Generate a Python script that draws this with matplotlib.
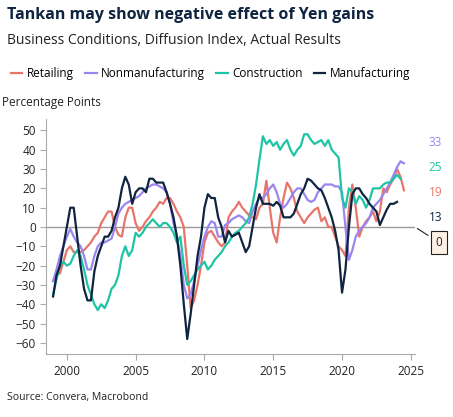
import matplotlib
matplotlib.use("Agg")
import matplotlib.pyplot as plt
import numpy as np

plt.rcParams['font.family'] = ['Open Sans', 'DejaVu Sans']

start_year = 1999.0
manufacturing = [-36,-25,-20,-10, 0,10,10,-5, -20,-32,-38,-38, -23,-15,-10,-5, -5,-2,5,10,
 20,26,22,12, 18,20,20,18, 25,25,23,23, 23,18,12,5, -5,-20,-40,-58, -45,-30,-15,-5,
 10,17,15,15, 5,0,-8,-2, -5,-4,-3,-8, -13,-10,0,10, 17,12,12,12, 11,13,11,5,
 5,5,7,12, 17,20,25,24, 22,20,19,15, 10,5,-2,-12, -34,-22,0,17, 20,20,17,15,
 12,10,8,1, 5,9,12,12, 13]
nonmanufacturing = [-28,-22,-15,-10, -5,-1,-5,-8, -10,-15,-22,-22, -15,-10,-8,-8, -7,-6,0,7,
 10,12,13,14, 15,16,18,20, 21,22,22,21, 20,18,12,2, -5,-15,-30,-37, -35,-28,-20,-12,
 -5,0,3,2, -5,-5,1,2, 4,5,6,5, 3,2,8,12, 15,15,17,20, 22,18,12,10,
 12,15,18,20, 20,17,14,13, 14,18,20,22, 22,22,21,21, 18,0,-17,-12, -5,-2,0,2,
 5,10,12,14, 17,20,23,27, 31,34,33]
retailing = [-28,-25,-24,-18, -12,-10,-13,-13, -13,-12,-10,-8, -5,-3,2,5, 8,8,0,-4,
 -5,5,10,10, 2,-2,0,3, 5,8,10,13, 12,15,15,12, 8,5,0,-20, -42,-38,-30,-20,
 -8,-3,-2,-5, -8,-10,-8,5, 8,10,13,10, 8,6,5,4, 10,12,24,10, -3,-8,5,15,
 23,20,15,8, 5,2,5,7, 9,10,3,5, 0,0,-5,-10, -12,-15,10,22, 10,-5,0,3,
 5,8,3,8, 20,18,22,25, 30,26,19]
construction = [-35,-27,-20,-18, -20,-19,-15,-12, -15,-22,-30,-35, -40,-43,-40,-42, -38,-32,-30,-25,
 -15,-10,-15,-12, -3,-5,-3,0, 2,4,2,0, 2,2,0,-3, -8,-5,-20,-30, -28,-25,-22,-20,
 -18,-22,-20,-17, -15,-13,-10,-8, -5,-3,-2,0, 2,5,12,22, 35,47,43,45, 42,44,40,43,
 45,40,37,40, 42,48,48,45, 43,44,45,42, 45,40,38,36, 15,10,20,18, 12,16,14,10,
 14,20,20,20, 22,23,23,25, 27,25]

series = [("Retailing", retailing, "#e8756a", "19"),
          ("Nonmanufacturing", nonmanufacturing, "#9b85f0", "33"),
          ("Construction", construction, "#1fc4a6", "25"),
          ("Manufacturing", manufacturing, "#0f2440", "13")]

fig = plt.figure(figsize=(4.53, 4.17), dpi=100)
ax = fig.add_axes([0.102, 0.15, 0.814, 0.565])
for name, vals, col, lab in series:
    x = start_year + np.arange(len(vals)) / 4
    ax.plot(x, vals, color=col, lw=1.6, label=name)
ax.axhline(0, color="#999999", lw=1, zorder=0)
ax.set_xlim(1998.5, 2025.3)
ax.set_ylim(-66, 56)
ax.set_yticks(range(-60, 51, 10))
ax.set_xticks(range(2000, 2026, 5))
for s in ["top", "right"]:
    ax.spines[s].set_visible(False)
for s in ["left", "bottom"]:
    ax.spines[s].set_color("#aaaaaa")
ax.tick_params(colors="#aaaaaa", labelcolor="#222222", labelsize=8.5, length=4)

# end labels, spread vertically as in the reference
label_pos = {"33": 44, "25": 31, "19": 18, "13": 5}
for name, vals, col, lab in series:
    ax.text(2026.3, label_pos[lab], lab, color=col, fontsize=8.5, va="center", ha="left",
            clip_on=False)
ax.annotate("0", xy=(2025.3, 0), xytext=(2026.8, -8), fontsize=8.5, color="#222222",
            annotation_clip=False, va="center",
            bbox=dict(boxstyle="square,pad=0.4", fc="#fdf1e6", ec="#222222", lw=0.8),
            arrowprops=dict(arrowstyle="-", color="#222222", lw=0.8))

fig.text(0.015, 0.955, "Tankan may show negative effect of Yen gains", fontsize=11.5,
         fontweight="bold", color="#0f2440")
fig.text(0.015, 0.895, "Business Conditions, Diffusion Index, Actual Results", fontsize=10, color="#222222")
fig.text(0.005, 0.745, "Percentage Points", fontsize=8.5, color="#222222")
fig.text(0.015, 0.04, "Source: Convera, Macrobond", fontsize=7.5, color="#222222")
fig.legend(loc="upper left", bbox_to_anchor=(0.0, 0.865), ncol=4, frameon=False,
           fontsize=8.5, handlelength=1.0, handletextpad=0.4, columnspacing=0.9)
fig.savefig("out.png", dpi=100)
